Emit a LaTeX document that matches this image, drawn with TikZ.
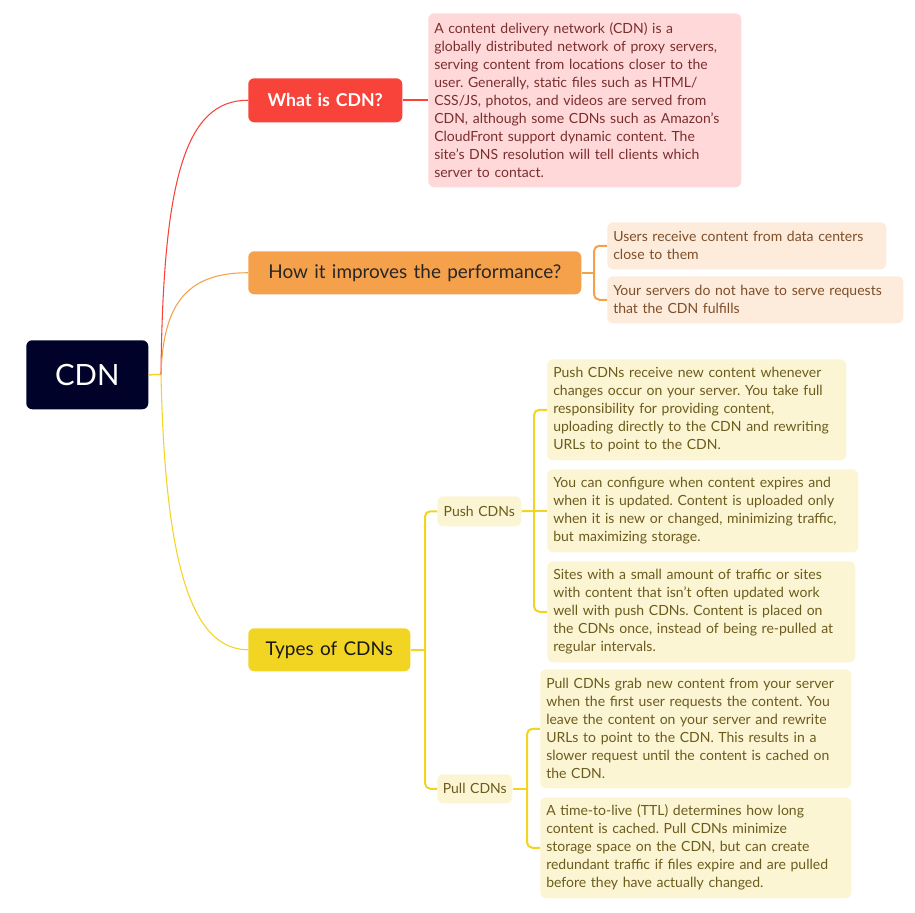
\documentclass[tikz,border=0pt]{standalone}
\usepackage{fontspec}
\setmainfont{Lato}
\frenchspacing
\definecolor{navy}{HTML}{000229}
\definecolor{cred}{HTML}{F8433B}
\definecolor{corange}{HTML}{F5A14B}
\definecolor{cyellow}{HTML}{F2D422}
\definecolor{cpink}{HTML}{FFD9D9}
\definecolor{tpink}{HTML}{7A2E2E}
\definecolor{cpeach}{HTML}{FDEBDB}
\definecolor{tpeach}{HTML}{7E4E28}
\definecolor{cly}{HTML}{FCF5D4}
\definecolor{tly}{HTML}{6B5B1C}
\begin{document}
\begin{tikzpicture}[x=0.75pt,y=-0.75pt,
  box/.style 2 args={anchor=north west, rounded corners=4.5pt, inner xsep=0pt, inner ysep=0pt,
     minimum width={#1*0.75pt}, minimum height={#2*0.75pt}, text width={(#1-12)*0.75pt}, align=left},
  desc/.style={font=\fontsize{10.5pt}{13.5pt}\selectfont},
  topic/.style={font=\fontsize{14.2pt}{16pt}\selectfont, align=center},
  curve/.style={line width=0.8pt},
  brk/.style={line width=1.5pt, rounded corners=4pt}]
\useasboundingbox (0,0) rectangle (915,913);
% root
\node[box={122}{69}, fill=navy, text=white, align=center, font=\fontsize{22pt}{26pt}\selectfont] (cdn) at (26,340) {CDN};
% main topics
\node[box={154}{44}, fill=cred, text=white, topic, font=\bfseries\fontsize{13.3pt}{15pt}\selectfont] (what) at (248,78) {What is CDN?};
\node[box={333}{43}, fill=corange, text=black!85, topic] (perf) at (248,251) {How it improves the performance?};
\node[box={162}{43}, fill=cyellow, text=black!90, topic] (types) at (248,628) {Types of CDNs};
% descriptions
\node[box={313}{174}, fill=cpink, text=tpink, desc] (d1) at (428,13) {A content delivery network (CDN) is a\\globally distributed network of proxy servers,\\serving content from locations closer to the\\user. Generally, static files such as HTML/\\CSS/JS, photos, and videos are served from\\CDN, although some CDNs such as Amazon's\\CloudFront support dynamic content. The\\site's DNS resolution will tell clients which\\server to contact.};
\node[box={279}{47}, fill=cpeach, text=tpeach, desc] (p1) at (607,222) {Users receive content from data centers\\close to them};
\node[box={296}{47}, fill=cpeach, text=tpeach, desc] (p2) at (607,276) {Your servers do not have to serve requests\\that the CDN fulfills};
\node[box={84}{30}, fill=cly, text=tly, desc, align=center, text width={82*0.75pt}] (push) at (437,496) {Push CDNs};
\node[box={75}{29}, fill=cly, text=tly, desc, align=center, text width={73*0.75pt}] (pull) at (437,774) {Pull CDNs};
\node[box={299}{101}, fill=cly, text=tly, desc] (s1) at (547,359) {Push CDNs receive new content whenever\\changes occur on your server. You take full\\responsibility for providing content,\\uploading directly to the CDN and rewriting\\URLs to point to the CDN.};
\node[box={311}{83}, fill=cly, text=tly, desc] (s2) at (547,469) {You can configure when content expires and\\when it is updated. Content is uploaded only\\when it is new or changed, minimizing traffic,\\but maximizing storage.};
\node[box={308}{101}, fill=cly, text=tly, desc] (s3) at (547,561) {Sites with a small amount of traffic or sites\\with content that isn't often updated work\\well with push CDNs. Content is placed on\\the CDNs once, instead of being re-pulled at\\regular intervals.};
\node[box={311}{119}, fill=cly, text=tly, desc] (l1) at (540,669) {Pull CDNs grab new content from your server\\when the first user requests the content. You\\leave the content on your server and rewrite\\URLs to point to the CDN. This results in a\\slower request until the content is cached on\\the CDN.};
\node[box={311}{101}, fill=cly, text=tly, desc] (l2) at (540,797) {A time-to-live (TTL) determines how long\\content is cached. Pull CDNs minimize\\storage space on the CDN, but can create\\redundant traffic if files expire and are pulled\\before they have actually changed.};
% connectors
\coordinate (hub) at (161,374.5);
\draw[cyellow, line width=1.2pt] (cdn.east) -- (hub);
\draw[cred, curve] (hub) .. controls (163,180) and (185,100) .. (what.west);
\draw[corange, curve] (hub) .. controls (163,310) and (182,272.5) .. (perf.west);
\draw[cyellow, curve] (hub) .. controls (165,560) and (190,649.5) .. (types.west);
\draw[cred, line width=1.5pt] (what.east) -- (d1.west);
\draw[corange, line width=1.5pt] (perf.east) -- ++(13,0);
\draw[corange, brk] (p1.west) -- ++(-13,0) |- (p2.west);
\draw[cyellow, line width=1.5pt] (types.east) -- ++(15,0);
\draw[cyellow, brk] (push.west) -- ++(-12,0) |- (pull.west);
\draw[cyellow, line width=1.5pt] (push.east) -- (s2.west);
\draw[cyellow, brk] (s1.west) -- ++(-13,0) |- (s3.west);
\draw[cyellow, line width=1.5pt] (pull.east) -- ++(15,0);
\draw[cyellow, brk] (l1.west) -- ++(-13,0) |- (l2.west);
\end{tikzpicture}
\end{document}
